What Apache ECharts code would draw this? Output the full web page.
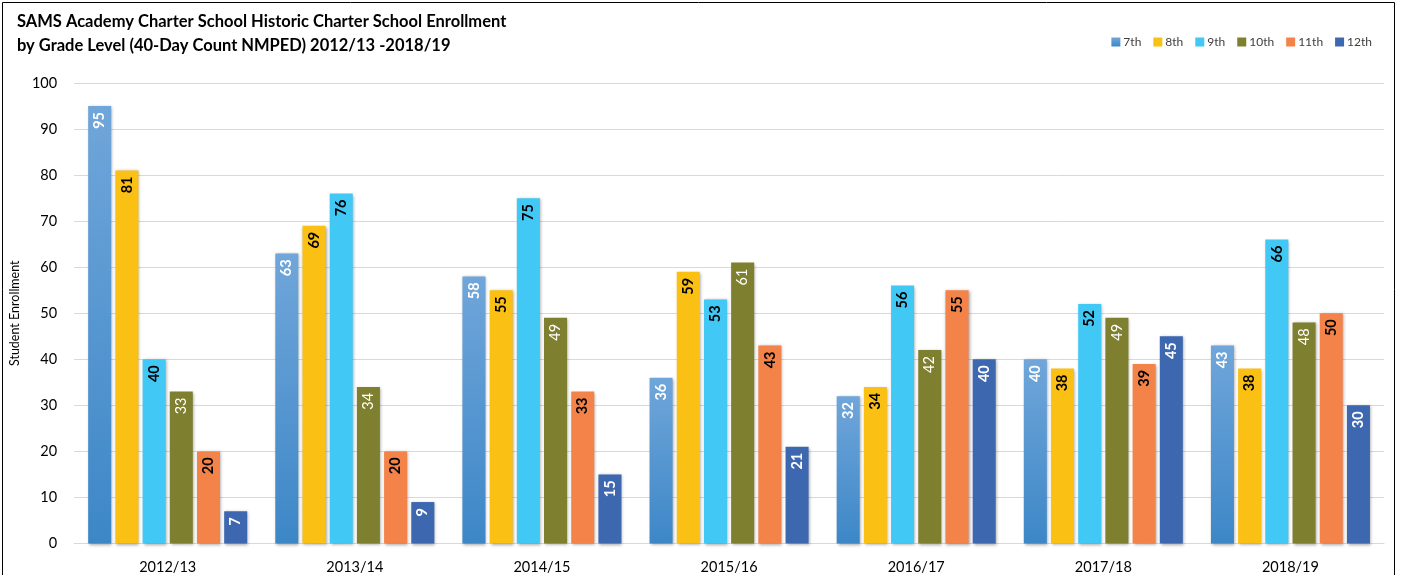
<!DOCTYPE html>
<html>
<head>
<meta charset="utf-8">
<script src="https://cdn.jsdelivr.net/npm/echarts@6/dist/echarts.min.js"></script>
<style>
html,body{margin:0;padding:0;background:#fff;}
#chart{width:1401px;height:575px;}
</style>
</head>
<body>
<div id="chart"></div>
<script>
const categories = ['2012/13','2013/14','2014/15','2015/16','2016/17','2017/18','2018/19'];
const grades = ['7th','8th','9th','10th','11th','12th'];
const g7  = [95,63,58,36,32,40,43];
const g8  = [81,69,55,59,34,38,38];
const g9  = [40,76,75,53,56,52,66];
const g10 = [33,34,49,61,42,49,48];
const g11 = [20,20,33,43,55,39,50];
const g12 = [7,9,15,21,40,45,30];
const yTicks = [0,10,20,30,40,50,60,70,80,90,100];

const seriesValues = [g7,g8,g9,g10,g11,g12];
const FONT = 'Lato, "Open Sans", sans-serif';
const colors = [
  new echarts.graphic.LinearGradient(0,0,0,1,[{offset:0,color:'#70A6DA'},{offset:1,color:'#3D87C7'}]),
  '#FBC014','#41C8F5','#7F7F30','#F4834A','#3D68B0'
];
const labelStyles = [
  {color:'#ffffff',fontWeight:'bold'},
  {color:'#000000',fontWeight:'bold'},
  {color:'#000000',fontWeight:'bold'},
  {color:'#ffffff',fontWeight:'normal'},
  {color:'#000000',fontWeight:'bold'},
  {color:'#ffffff',fontWeight:'bold'}
];

const chart = echarts.init(document.getElementById('chart'), null, {renderer:'canvas'});
chart.setOption({
  animation:false,
  backgroundColor:'#ffffff',
  textStyle:{fontFamily:FONT},
  graphic:[{
    type:'rect', shape:{x:2.5,y:2.5,width:1392,height:600}, silent:true, z:-1,
    style:{fill:'none',stroke:'#000',lineWidth:1}
  }],
  title:{
    text:'SAMS Academy Charter School Historic Charter School Enrollment\nby Grade Level (40-Day Count NMPED) 2012/13 -2018/19',
    left:12, top:5,
    textStyle:{fontFamily:FONT,fontSize:16.5,fontWeight:'bold',color:'#000',lineHeight:24}
  },
  legend:{
    data:grades, right:24, top:31, itemWidth:9, itemHeight:9, itemGap:12,
    icon:'rect',
    textStyle:{fontFamily:FONT,fontSize:12,color:'#404040',padding:[0,0,0,-2]}
  },
  grid:{left:74, right:17, top:83, bottom:31.5, containLabel:false},
  xAxis:{
    type:'category', data:categories,
    axisLine:{show:true,lineStyle:{color:'#d9d9d9'}},
    axisTick:{show:false},
    axisLabel:{fontFamily:FONT,fontSize:14.5,color:'#000',margin:16}
  },
  yAxis:{
    type:'value', min:yTicks[0], max:yTicks[yTicks.length-1], interval:10,
    name:'Student Enrollment', nameLocation:'middle', nameGap:49, nameRotate:90,
    nameTextStyle:{fontFamily:FONT,fontSize:12.5,color:'#000'},
    axisLine:{show:false}, axisTick:{show:false},
    axisLabel:{fontFamily:FONT,fontSize:14.5,color:'#000',margin:17},
    splitLine:{lineStyle:{color:'#d9d9d9',width:1}}
  },
  series: grades.map((g,i)=>({
    name:g, type:'bar', data:seriesValues[i],
    barGap:'18%', barCategoryGap:'15%',
    itemStyle:{color:colors[i], shadowColor:'rgba(0,0,0,0.35)', shadowBlur:3, shadowOffsetX:1, shadowOffsetY:1},
    label:{
      show:true, position:'insideTop', rotate:90, align:'right', verticalAlign:'middle', distance:6,
      fontFamily:FONT, fontSize:14.5, color:labelStyles[i].color, fontWeight:labelStyles[i].fontWeight
    }
  }))
});
</script>
</body>
</html>
